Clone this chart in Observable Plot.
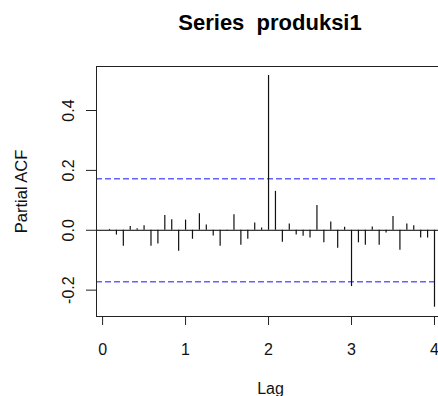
<!DOCTYPE html>
<html>
<head>
<meta charset="utf-8">
<script src="https://cdn.jsdelivr.net/npm/d3@7"></script>
<script src="https://cdn.jsdelivr.net/npm/@observablehq/plot@0.6"></script>
<style>
  html, body { margin: 0; padding: 0; background: white; overflow: hidden; }
</style>
</head>
<body>
<div id="chart"></div>
<script>
// Lag in months (series frequency 12), lag in years = month / 12
const lagMonths = [1,2,3,4,5,6,7,8,9,10,11,12,13,14,15,16,17,18,19,20,21,22,23,24,
                   25,26,27,28,29,30,31,32,33,34,35,36,37,38,39,40,41,42,43,44,45,46,47,48];
const pacfValues = [0.003,-0.016,-0.053,0.013,0.005,0.015,-0.053,-0.046,0.049,0.035,-0.070,0.034,
                    -0.030,0.055,0.018,-0.019,-0.053,-0.002,0.052,-0.050,-0.030,0.024,0.008,0.517,
                    0.130,-0.040,0.021,-0.016,-0.020,-0.026,0.083,-0.042,0.028,-0.060,0.010,-0.188,
                    -0.042,-0.050,0.011,-0.050,-0.009,0.046,-0.067,0.021,0.015,-0.026,-0.026,-0.257];
const confLimit = 0.172;
const xTicks = [0, 1, 2, 3, 4];
const xTickLabels = ["0", "1", "2", "3", "4"];
const yTicks = [-0.2, 0, 0.2, 0.4];
const yTickLabels = ["-0.2", "0.0", "0.2", "0.4"];
const titleText = "Series  produksi1";
const xLabel = "Lag";
const yLabel = "Partial ACF";

const data = lagMonths.map((m, i) => ({lag: m / 12, pacf: pacfValues[i]}));
const font = "'Liberation Sans', Arial, Helvetica, sans-serif";

const chart = Plot.plot({
  width: 438,
  height: 396,
  marginLeft: 96,
  marginRight: -9,
  marginTop: 66,
  marginBottom: 80,
  style: {fontFamily: font, overflow: "hidden", background: "white", color: "#000"},
  x: {domain: [-0.0733, 4.1567], axis: null},
  y: {domain: [-0.288, 0.547], axis: null},
  marks: [
    Plot.ruleY([0], {stroke: "#000", strokeWidth: 1}),
    Plot.ruleY([confLimit, -confLimit], {stroke: "#6262ff", strokeWidth: 1.6, strokeDasharray: "6,3"}),
    Plot.ruleX(data, {x: "lag", y1: 0, y2: "pacf", stroke: "#111", strokeWidth: 1.2}),
    Plot.frame({stroke: "#222", strokeWidth: 1}),
    Plot.axisX({ticks: xTicks, tickSize: 9, tickFormat: () => "", label: null, stroke: "#222"}),
    Plot.axisY({ticks: yTicks, tickSize: 10, tickFormat: () => "", label: null, stroke: "#222"}),
    Plot.text(xTicks, {x: d => d, text: (d, i) => xTickLabels[i], frameAnchor: "bottom", lineAnchor: "top", dy: 27, fontSize: 16, fill: "#111"}),
    Plot.text(yTicks, {y: d => d, text: (d, i) => yTickLabels[i], frameAnchor: "left", textAnchor: "middle", lineAnchor: "middle", rotate: -90, dx: -28, fontSize: 16, fill: "#111"}),
    Plot.text([xLabel], {frameAnchor: "bottom", lineAnchor: "top", dy: 66, dx: -1.5, fontSize: 16, fill: "#111"}),
    Plot.text([yLabel], {frameAnchor: "left", textAnchor: "middle", lineAnchor: "middle", rotate: -90, dx: -74.5, fontSize: 16.5, fill: "#111"}),
    Plot.text([titleText], {frameAnchor: "top", lineAnchor: "top", dy: -52, dx: -2, fontSize: 22, fontWeight: "bold", fill: "#000"})
  ]
});
document.getElementById("chart").appendChild(chart);
</script>
</body>
</html>
